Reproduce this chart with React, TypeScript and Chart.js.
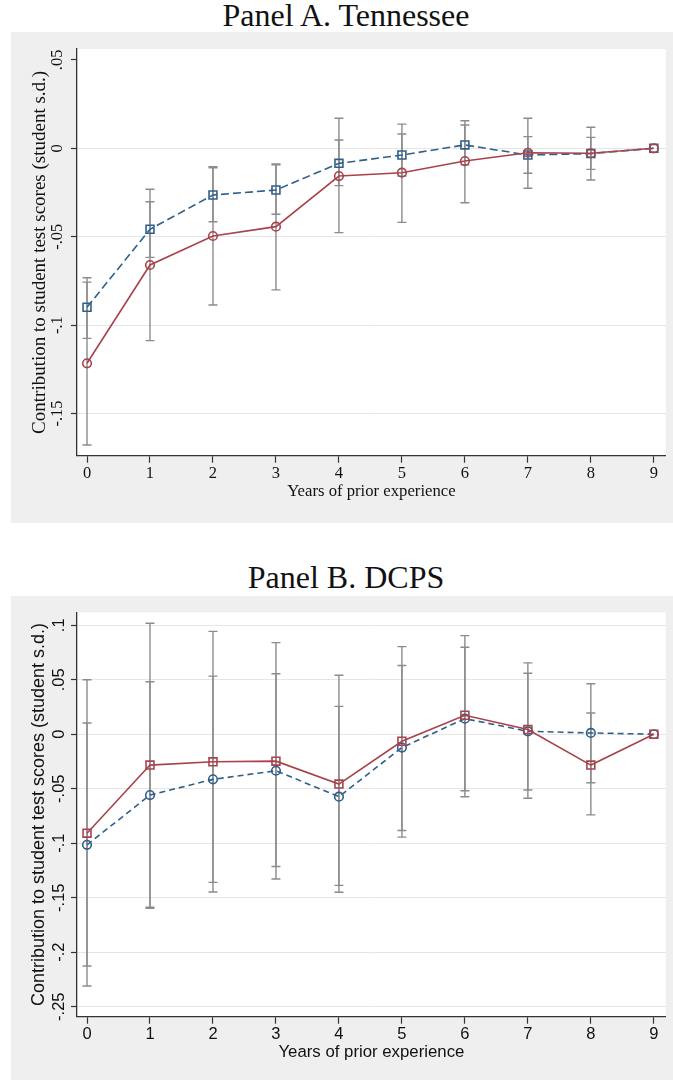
import React, { useEffect, useRef } from "react";
import { Chart, registerables } from "chart.js";

Chart.register(...registerables);

// ---------- data ----------
const years = [0, 1, 2, 3, 4, 5, 6, 7, 8, 9];
const xTickValues = [0, 1, 2, 3, 4, 5, 6, 7, 8, 9];

// Panel A. Tennessee
const tnYTicks = [0.05, 0, -0.05, -0.1, -0.15];
const tnYLabels = [".05", "0", "-.05", "-.1", "-.15"];
const tnBlue = [-0.0899, -0.0458, -0.0264, -0.0236, -0.0085, -0.0038, 0.0019, -0.0038, -0.003, 0];
const tnBlueLo = [-0.1075, -0.0617, -0.0415, -0.0373, -0.0211, -0.0157, -0.0094, -0.0141, -0.0119, null];
const tnBlueHi = [-0.0732, -0.0302, -0.011, -0.0093, 0.0047, 0.0081, 0.0132, 0.0066, 0.0062, null];
const tnRed = [-0.1216, -0.066, -0.0496, -0.0443, -0.0157, -0.0138, -0.0072, -0.0025, -0.0028, 0];
const tnRedLo = [-0.1678, -0.1088, -0.0886, -0.0801, -0.0477, -0.0419, -0.0308, -0.0226, -0.0179, null];
const tnRedHi = [-0.0757, -0.0232, -0.0104, -0.0089, 0.017, 0.0137, 0.0156, 0.017, 0.0119, null];

// Panel B. DCPS
const dcYTicks = [0.1, 0.05, 0, -0.05, -0.1, -0.15, -0.2, -0.25];
const dcYLabels = [".1", ".05", "0", "-.05", "-.1", "-.15", "-.2", "-.25"];
const dcRed = [-0.0908, -0.0283, -0.0253, -0.0247, -0.0457, -0.0064, 0.0174, 0.0043, -0.0283, 0];
const dcRedLo = [-0.231, -0.1588, -0.1447, -0.1328, -0.145, -0.0944, -0.0573, -0.0588, -0.074, null];
const dcRedHi = [0.05, 0.1018, 0.0944, 0.0841, 0.0542, 0.0804, 0.0905, 0.0655, 0.0195, null];
const dcBlue = [-0.1015, -0.0558, -0.0414, -0.0335, -0.0573, -0.0122, 0.0143, 0.0027, 0.0012, 0];
const dcBlueLo = [-0.2127, -0.1598, -0.1359, -0.1213, -0.1387, -0.0884, -0.0518, -0.0512, -0.0445, null];
const dcBlueHi = [0.0103, 0.0482, 0.0533, 0.0555, 0.0256, 0.0631, 0.0798, 0.056, 0.0463, null];

const xTitle = "Years of prior experience";
const yTitle = "Contribution to student test scores (student s.d.)";

// ---------- styles ----------
const BLUE = "#2f5f8c";
const RED = "#a8424b";
const ERR = "#8c8c8c";
const AXIS = "#333333";
const GRID = "#e6e6e6";
const TEXT = "#111111";
const GRAY_BG = "#efefef";
const SERIF = "'Liberation Serif', 'Times New Roman', serif";
const SANS = "'Liberation Sans', Arial, sans-serif";

type Series = {
  values: number[];
  lo: (number | null)[];
  hi: (number | null)[];
  color: string;
  dash: number[];
  point: "rect" | "circle";
};

type PanelCfg = {
  title: string;
  titleTop: number;
  boxTop: number;
  boxHeight: number;
  font: string;
  tickSize: number;
  xTitleSize: number;
  yTitleSize: number;
  yTicks: number[];
  yLabels: string[];
  yMin: number;
  yMax: number;
  noGrid: number[];
  series: Series[];
  padTop: number;
  xAxisHeight: number;
  yTitlePad: number;
  yTickPad: number;
  xTickPad: number;
  xTitlePad: number;
};

const panels: PanelCfg[] = [
  {
    title: "Panel A. Tennessee",
    titleTop: 0,
    boxTop: 32,
    boxHeight: 491,
    font: SERIF,
    tickSize: 16.5,
    xTitleSize: 16.7,
    yTitleSize: 19,
    yTicks: tnYTicks,
    yLabels: tnYLabels,
    yMin: -0.17387,
    yMax: 0.05617,
    noGrid: [0.05],
    series: [
      { values: tnRed, lo: tnRedLo, hi: tnRedHi, color: RED, dash: [], point: "circle" },
      { values: tnBlue, lo: tnBlueLo, hi: tnBlueHi, color: BLUE, dash: [8, 4], point: "rect" },
    ],
    padTop: 17,
    xAxisHeight: 67.3,
    yTitlePad: 17.6,
    yTickPad: 0.6,
    xTickPad: 1.0,
    xTitlePad: 21.7,
  },
  {
    title: "Panel B. DCPS",
    titleTop: 562,
    boxTop: 596,
    boxHeight: 484,
    font: SANS,
    tickSize: 16.5,
    xTitleSize: 16.8,
    yTitleSize: 18,
    yTicks: dcYTicks,
    yLabels: dcYLabels,
    yMin: -0.2592,
    yMax: 0.1119,
    noGrid: [],
    series: [
      { values: dcRed, lo: dcRedLo, hi: dcRedHi, color: RED, dash: [], point: "rect" },
      { values: dcBlue, lo: dcBlueLo, hi: dcBlueHi, color: BLUE, dash: [6, 4], point: "circle" },
    ],
    padTop: 16.3,
    xAxisHeight: 63.3,
    yTitlePad: 17.7,
    yTickPad: -2.8,
    xTickPad: 0.9,
    xTitlePad: 17.1,
  },
];

const BOX_LEFT = 11;
const BOX_WIDTH = 662;

function Panel({ cfg }: { cfg: PanelCfg }) {
  const ref = useRef<HTMLCanvasElement | null>(null);

  useEffect(() => {
    const canvas = ref.current;
    if (!canvas) return;

    const plotBg = {
      id: "plotBg",
      beforeDraw(chart: any) {
        const { ctx, chartArea: a } = chart;
        ctx.save();
        ctx.fillStyle = "#ffffff";
        ctx.fillRect(a.left, a.top, a.right - a.left, a.bottom - a.top);
        ctx.restore();
      },
    };

    const errorBars = {
      id: "errorBars",
      beforeDatasetsDraw(chart: any) {
        const { ctx } = chart;
        const xs = chart.scales.x;
        const ys = chart.scales.y;
        ctx.save();
        ctx.strokeStyle = ERR;
        ctx.lineWidth = 1.4;
        const cap = 4.5;
        cfg.series.forEach((s) => {
          years.forEach((yr, i) => {
            const lo = s.lo[i];
            const hi = s.hi[i];
            if (lo == null || hi == null) return;
            const px = xs.getPixelForValue(yr);
            const p1 = ys.getPixelForValue(lo);
            const p2 = ys.getPixelForValue(hi);
            ctx.beginPath();
            ctx.moveTo(px, p1);
            ctx.lineTo(px, p2);
            ctx.moveTo(px - cap, p1);
            ctx.lineTo(px + cap, p1);
            ctx.moveTo(px - cap, p2);
            ctx.lineTo(px + cap, p2);
            ctx.stroke();
          });
        });
        ctx.restore();
      },
    };

    const tickFont = { family: cfg.font, size: cfg.tickSize };

    const chart = new Chart(canvas, {
      type: "line",
      data: {
        datasets: cfg.series.map((s, k) => ({
          label: "s" + k,
          data: years.map((x, i) => ({ x, y: s.values[i] })),
          borderColor: s.color,
          borderWidth: 1.6,
          borderDash: s.dash,
          pointStyle: s.point,
          pointRadius: s.point === "rect" ? 5.6 : 4.3,
          pointBorderWidth: 1.6,
          pointBorderColor: s.color,
          pointBackgroundColor: "rgba(0,0,0,0)",
          fill: false,
          tension: 0,
        })),
      },
      plugins: [plotBg, errorBars],
      options: {
        animation: false,
        responsive: false,
        events: [],
        layout: { padding: { left: 0, top: cfg.padTop, right: 7, bottom: 0 } },
        plugins: {
          legend: { display: false },
          tooltip: { enabled: false },
          title: { display: false },
        },
        scales: {
          x: {
            type: "linear",
            min: -0.159,
            max: 9.19,
            afterBuildTicks: (s: any) => {
              s.ticks = xTickValues.map((v) => ({ value: v }));
            },
            afterFit: (s: any) => {
              s.height = cfg.xAxisHeight;
            },
            ticks: {
              autoSkip: false,
              maxRotation: 0,
              minRotation: 0,
              padding: cfg.xTickPad,
              color: TEXT,
              font: tickFont,
              callback: (v: any) => String(v),
            },
            grid: {
              drawOnChartArea: false,
              drawTicks: true,
              tickLength: 7,
              tickColor: AXIS,
              tickWidth: 1.2,
            },
            border: { display: true, color: AXIS, width: 1.3 },
            title: {
              display: true,
              text: xTitle,
              color: TEXT,
              font: { family: cfg.font, size: cfg.xTitleSize },
              padding: { top: 0, bottom: cfg.xTitlePad },
            },
          },
          y: {
            type: "linear",
            min: cfg.yMin,
            max: cfg.yMax,
            afterBuildTicks: (s: any) => {
              s.ticks = cfg.yTicks.map((v) => ({ value: v }));
            },
            afterFit: (s: any) => {
              s.width = 66;
            },
            ticks: {
              autoSkip: false,
              minRotation: 90,
              maxRotation: 90,
              crossAlign: "center",
              padding: cfg.yTickPad,
              color: TEXT,
              font: tickFont,
              callback: (v: any) => {
                const idx = cfg.yTicks.findIndex((t) => Math.abs(t - v) < 1e-9);
                return idx >= 0 ? cfg.yLabels[idx] : "";
              },
            },
            grid: {
              drawOnChartArea: true,
              drawTicks: true,
              tickLength: 6,
              tickColor: AXIS,
              tickWidth: 1.2,
              lineWidth: 1,
              color: (c: any) =>
                c.tick && cfg.noGrid.some((g) => Math.abs(g - c.tick.value) < 1e-9)
                  ? "rgba(0,0,0,0)"
                  : GRID,
            },
            border: { display: true, color: AXIS, width: 1.3 },
            title: {
              display: true,
              text: yTitle,
              color: TEXT,
              font: { family: cfg.font, size: cfg.yTitleSize },
              padding: { top: cfg.yTitlePad, bottom: 0 },
            },
          },
        },
      } as any,
    });

    return () => {
      chart.destroy();
    };
  }, [cfg]);

  return (
    <>
      <div
        style={{
          position: "absolute",
          left: 20,
          top: cfg.titleTop,
          width: 652,
          textAlign: "center",
          fontFamily: SERIF,
          fontSize: 32,
          lineHeight: "31px",
          color: TEXT,
          whiteSpace: "nowrap",
        }}
      >
        {cfg.title}
      </div>
      <canvas
        ref={ref}
        width={BOX_WIDTH}
        height={cfg.boxHeight}
        style={{
          position: "absolute",
          left: BOX_LEFT,
          top: cfg.boxTop,
          width: BOX_WIDTH,
          height: cfg.boxHeight,
          background: GRAY_BG,
          display: "block",
        }}
      />
    </>
  );
}

export default function App() {
  return (
    <div
      style={{
        position: "absolute",
        left: 0,
        top: 0,
        width: 673,
        height: 1080,
        background: "#ffffff",
        overflow: "hidden",
      }}
    >
      {panels.map((p) => (
        <Panel key={p.title} cfg={p} />
      ))}
    </div>
  );
}
